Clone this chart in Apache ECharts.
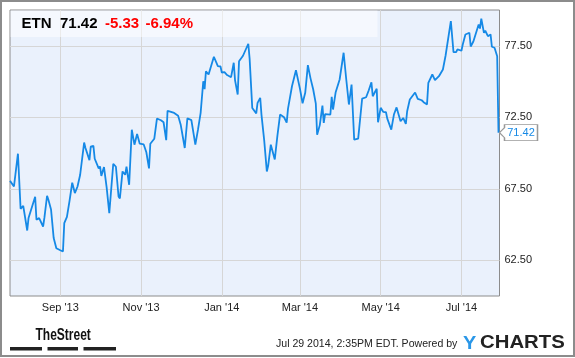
<!DOCTYPE html>
<html>
<head>
<meta charset="utf-8">
<script src="https://cdn.jsdelivr.net/npm/echarts@6/dist/echarts.min.js"></script>
<style>
html,body{margin:0;padding:0;background:#fff;}
#c{width:575px;height:358px;}
</style>
</head>
<body>
<div id="c"></div>
<script>
// ---- data ----
const baseDate = '2013-07-25';          // first trading sample
const endOffsetDays = 369.75;           // right edge of the axis, days after baseDate
const days = [0,3,6,8,10,13,14,19,20,22,25,26,28,29,31,33,34,35,38,40,41,43,45,47,48,49,51,53,54,56,57,60,61,63,64,67,68,69,71,73,75,78,80,82,83,85,87,88,90,92,94,96,98,101,103,105,106,109,111,114,116,118,119,121,124,127,129,132,134,137,140,142,144,146,147,148,150,154,157,159,160,162,164,167,169,170,172,173,176,180,181,183,186,187,189,190,192,194,195,197,200,202,204,207,209,210,213,216,219,221,223,225,227,229,231,232,234,236,237,238,242,243,244,246,249,252,254,256,257,258,260,263,266,269,271,272,273,274,277,278,280,282,284,285,286,288,290,292,295,297,299,300,302,306,308,311,313,315,316,319,321,322,324,327,329,333,335,337,338,341,342,344,347,348,350,351,354,355,356,358,359,361,363,364,366,368,369];
const prices = [68.05,67.66,69.95,66.10,66.30,64.58,65.45,66.94,65.33,65.45,64.86,65.48,67.01,66.73,66.05,64.05,63.98,63.34,63.20,63.11,65.10,65.54,66.67,67.92,68.01,67.20,67.66,68.48,68.35,70.73,70.35,69.50,70.44,70.50,69.60,68.92,69.06,68.40,69.02,67.60,65.80,69.25,69.04,66.96,66.82,68.71,68.48,69.04,67.78,71.63,70.58,71.33,70.65,70.60,70.05,68.92,70.65,71.00,72.41,72.29,72.15,70.90,72.95,72.90,72.80,72.60,71.95,70.35,72.43,72.30,70.58,71.63,72.81,75.02,74.47,75.72,75.49,76.73,76.07,76.05,75.63,75.65,75.45,75.30,76.31,75.08,74.09,76.42,76.80,77.64,76.60,73.15,72.77,73.51,73.86,72.63,70.90,68.71,69.10,70.58,69.55,71.22,72.69,72.50,72.12,73.10,74.67,75.79,74.50,73.48,74.21,76.14,75.22,74.46,73.45,71.28,71.95,73.32,72.10,72.72,72.69,73.93,73.04,74.25,75.14,77.01,75.14,73.39,73.39,74.79,70.93,71.00,73.80,73.90,74.39,74.35,74.95,73.97,74.49,72.15,73.16,72.87,72.85,72.40,72.40,71.63,72.69,73.19,72.22,72.45,72.04,72.92,73.74,74.23,73.79,73.69,73.51,73.40,74.91,75.49,75.09,75.00,75.37,75.84,76.80,79.22,77.05,77.05,77.24,77.15,77.59,78.29,78.41,77.45,77.80,77.71,78.99,78.70,79.40,78.40,78.55,78.17,78.29,77.43,77.36,76.77,71.42];
const xTickDates = ['2013-09-01','2013-11-01','2014-01-01','2014-03-01','2014-05-01','2014-07-01'];
const xTickLabels = ["Sep '13","Nov '13","Jan '14","Mar '14","May '14","Jul '14"];
const yTicks = [62.5, 67.5, 72.5, 77.5];
const ticker = 'ETN';
const lastPrice = '71.42';
const change = '-5.33';
const changePct = '-6.94%';
const footerDate = 'Jul 29 2014, 2:35PM EDT. Powered by';

// ---- build ----
const DAY = 86400000;
const toTs = s => { const p = s.split('-').map(Number); return Date.UTC(p[0], p[1]-1, p[2]); };
const base = toTs(baseDate);
const seriesData = days.map((d, i) => [d, prices[i]]);
const xTicks = xTickDates.map(s => Math.round((toTs(s) - base) / DAY));
const last = seriesData[seriesData.length - 1];
const LINE = '#1589e6';
const FONT = '"Liberation Sans", Arial, sans-serif';

const chart = echarts.init(document.getElementById('c'), null, {renderer: 'canvas'});
chart.setOption({
  animation: false,
  backgroundColor: '#fff',
  grid: {
    left: 10, top: 10, right: 75.5, bottom: 62,
    show: true, backgroundColor: '#eaf1fc', borderColor: '#8c8c8c', borderWidth: 1
  },
  xAxis: {
    type: 'value',
    min: 0, max: endOffsetDays,
    axisLine: {show: false},
    axisTick: {show: false, customValues: xTicks},
    splitLine: {show: true, lineStyle: {color: '#d6d6d6', width: 1}},
    axisLabel: {
      customValues: xTicks, margin: 6, color: '#222', fontSize: 11, fontFamily: FONT,
      formatter: v => { const i = xTicks.indexOf(Math.round(v)); return i >= 0 ? xTickLabels[i] : ''; }
    }
  },
  yAxis: {
    type: 'value', position: 'right', min: 60, max: 80,
    axisLine: {show: false},
    axisTick: {show: false, customValues: yTicks},
    splitLine: {show: true, lineStyle: {color: '#d6d6d6', width: 1}},
    axisLabel: {customValues: yTicks, margin: 5, color: '#222', fontSize: 11, fontFamily: FONT,
      formatter: v => v.toFixed(2)}
  },
  series: [{
    type: 'line', data: seriesData, showSymbol: false, symbol: 'none',
    lineStyle: {color: LINE, width: 1.8},
    markPoint: {
      symbol: 'path://M0,8 L5,3 L5,0 L38,0 L38,16 L5,16 L5,13 Z',
      symbolSize: [38, 16], symbolOffset: [20, 0],
      itemStyle: {color: '#fff', borderColor: '#999', borderWidth: 1},
      label: {show: true, position: 'inside', offset: [2.5, 0], color: LINE, fontSize: 11, fontFamily: FONT,
        formatter: p => Number(p.value).toFixed(2)},
      data: [{coord: last, value: last[1]}]
    }
  }],
  graphic: [
    {type: 'rect', shape: {x: 10.5, y: 10.5, width: 367, height: 26.5}, style: {fill: 'rgba(255,255,255,0.5)'}, z: 10},
    {type: 'text', x: 21.5, y: 24, style: {text: ticker, font: 'bold 15px ' + FONT, fill: '#000', textVerticalAlign: 'middle'}, z: 11},
    {type: 'text', x: 60, y: 24, style: {text: lastPrice, font: 'bold 15px ' + FONT, fill: '#000', textVerticalAlign: 'middle'}, z: 11},
    {type: 'text', x: 105, y: 24, style: {text: change, font: 'bold 15px ' + FONT, fill: '#f00', textVerticalAlign: 'middle'}, z: 11},
    {type: 'text', x: 145.5, y: 24, style: {text: changePct, font: 'bold 15px ' + FONT, fill: '#f00', textVerticalAlign: 'middle'}, z: 11},
    {type: 'rect', shape: {x: 1, y: 1, width: 573, height: 355}, style: {fill: 'none', stroke: '#8c8c8c', lineWidth: 2}, z: 11},
    {type: 'text', x: 35.5, y: 336, scaleX: 0.75, style: {text: 'TheStreet', font: 'bold 16px "Liberation Sans Narrow", "Liberation Sans", Arial, sans-serif', fill: '#111', textVerticalAlign: 'middle'}, z: 11},
    {type: 'rect', shape: {x: 10, y: 347, width: 32, height: 3.5}, style: {fill: '#222'}, z: 11},
    {type: 'rect', shape: {x: 47.5, y: 347, width: 30.5, height: 3.5}, style: {fill: '#222'}, z: 11},
    {type: 'rect', shape: {x: 83.5, y: 347, width: 32.5, height: 3.5}, style: {fill: '#222'}, z: 11},
    {type: 'text', x: 276, y: 344, scaleX: 0.96, style: {text: footerDate, font: '11px ' + FONT, fill: '#222', textVerticalAlign: 'middle'}, z: 11},
    {type: 'text', x: 463, y: 343.5, scaleX: 1.05, style: {text: 'Y', font: 'bold 19px ' + FONT, fill: '#2a97e8', textVerticalAlign: 'middle'}, z: 11},
    {type: 'text', x: 480, y: 343.5, scaleX: 1.13, style: {text: 'CHARTS', font: 'bold 18px ' + FONT, fill: '#222', textVerticalAlign: 'middle'}, z: 11}
  ]
});
</script>
</body>
</html>
